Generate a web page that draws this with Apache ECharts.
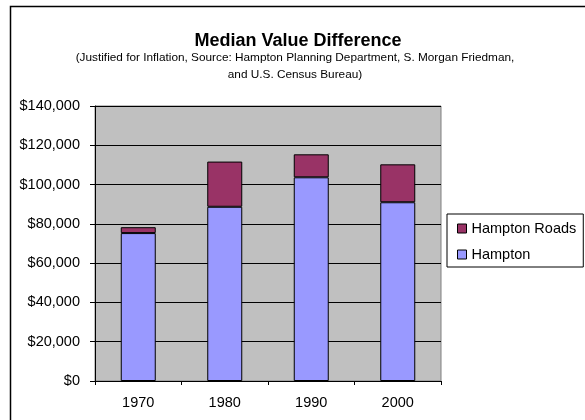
<!DOCTYPE html>
<html>
<head>
<meta charset="utf-8">
<script src="https://cdn.jsdelivr.net/npm/echarts@6/dist/echarts.min.js"></script>
<style>
html, body { margin: 0; padding: 0; background: #fff; }
#main { width: 585px; height: 420px; }
</style>
</head>
<body>
<div id="main"></div>
<script>
var years = ['1970', '1980', '1990', '2000'];
var hampton = [75300, 88700, 103700, 91000];
// difference on top of Hampton value
var hamptonRoads = [3000, 23000, 11700, 19300];

var FONT = "'Liberation Sans', Arial, sans-serif";

var chartDom = document.getElementById("main");
var myChart = echarts.init(chartDom);

var option = {
    animation: false,
    backgroundColor: '#fff',
    textStyle: { fontFamily: FONT, color: '#000' },
    graphic: [{
        type: 'rect',
        shape: { x: 10.5, y: 6.5, width: 700, height: 600 },
        style: { fill: 'none', stroke: '#000', lineWidth: 1.5 },
        silent: true,
        z: -1
    }],
    title: [{
        text: 'Median Value Difference',
        left: 298,
        top: 31,
        textAlign: 'center',
        padding: 0,
        textStyle: { fontFamily: FONT, fontSize: 18, fontWeight: 'bold', color: '#000', lineHeight: 20 }
    }, {
        text: '(Justified for Inflation, Source: Hampton Planning Department, S. Morgan Friedman,\nand U.S. Census Bureau)',
        left: 295,
        top: 49.5,
        textAlign: 'center',
        padding: 0,
        textStyle: { fontFamily: FONT, fontSize: 11.8, fontWeight: 'normal', color: '#000', lineHeight: 17 }
    }],
    legend: {
        data: ['Hampton Roads', 'Hampton'],
        orient: 'vertical',
        left: 447,
        top: 214,
        padding: [7, 7, 5, 10],
        itemWidth: 9,
        itemHeight: 9,
        itemGap: 11,
        itemTextGap: 4,
        icon: 'rect',
        backgroundColor: '#fff',
        borderColor: '#000',
        borderWidth: 1,
        borderRadius: 0,
        itemStyle: { borderColor: '#000', borderWidth: 1 },
        textStyle: { fontFamily: FONT, fontSize: 14.5, color: '#000', lineHeight: 14 }
    },
    grid: {
        left: 95,
        right: 144,
        top: 106,
        bottom: 39,
        show: true,
        backgroundColor: '#C0C0C0',
        borderColor: '#808080',
        borderWidth: 1,
        containLabel: false
    },
    xAxis: {
        type: 'category',
        data: years,
        axisLine: { lineStyle: { color: '#000', width: 1 } },
        axisTick: { show: true, length: 4, lineStyle: { color: '#000' } },
        axisLabel: { fontFamily: FONT, fontSize: 14.5, color: '#000', margin: 14 }
    },
    yAxis: {
        type: 'value',
        min: 0,
        max: 140000,
        interval: 20000,
        axisLine: { show: true, lineStyle: { color: '#000', width: 1 } },
        axisTick: { show: true, length: 5, lineStyle: { color: '#000' } },
        splitLine: { show: true, lineStyle: { color: '#000', width: 1 } },
        axisLabel: {
            fontFamily: FONT, fontSize: 14.5, color: '#000', margin: 15,
            formatter: function (v) { return '$' + v.toLocaleString('en-US'); }
        }
    },
    series: [{
        name: 'Hampton',
        type: 'bar',
        stack: 'total',
        barWidth: 35,
        itemStyle: { color: '#9999FF', borderColor: '#000', borderWidth: 1 },
        data: hampton
    }, {
        name: 'Hampton Roads',
        type: 'bar',
        stack: 'total',
        barWidth: 35,
        itemStyle: { color: '#993366', borderColor: '#000', borderWidth: 1 },
        data: hamptonRoads
    }]
};

if (option && typeof option === "object") {
    myChart.setOption(option, true);
}
</script>
</body>
</html>
